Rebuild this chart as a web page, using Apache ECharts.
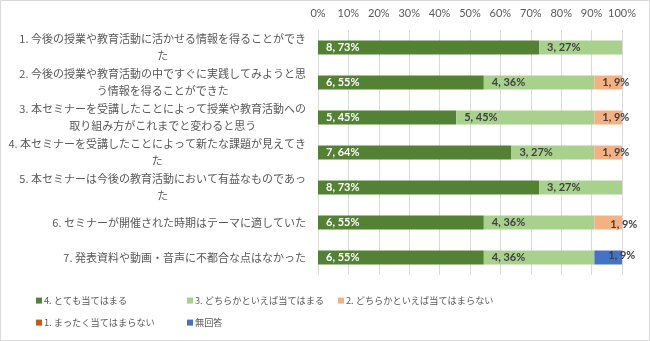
<!DOCTYPE html>
<html>
<head>
<meta charset="utf-8">
<script src="https://cdn.jsdelivr.net/npm/echarts@6/dist/echarts.min.js"></script>
<style>
html,body{margin:0;padding:0;background:#fff;}
#c{width:650px;height:341px;}
</style>
</head>
<body>
<div id="c"></div>
<script>
const categories = [
  "1. 今後の授業や教育活動に活かせる情報を得ることができ\nた",
  "2. 今後の授業や教育活動の中ですぐに実践してみようと思\nう情報を得ることができた",
  "3. 本セミナーを受講したことによって授業や教育活動への\n取り組み方がこれまでと変わると思う",
  "4. 本セミナーを受講したことによって新たな課題が見えてき\nた",
  "5. 本セミナーは今後の教育活動において有益なものであっ\nた",
  "6. セミナーが開催された時期はテーマに適していた",
  "7. 発表資料や動画・音声に不都合な点はなかった"
];
const seriesNames = ["4. とても当てはまる", "3. どちらかといえば当てはまる", "2. どちらかといえば当てはまらない", "1. まったく当てはまらない", "無回答"];
const counts4 = [8, 6, 5, 7, 8, 6, 6];
const counts3 = [3, 4, 5, 3, 3, 4, 4];
const counts2 = [0, 1, 1, 1, 0, 1, 0];
const counts1 = [0, 0, 0, 0, 0, 0, 0];
const countsNA = [0, 0, 0, 0, 0, 0, 1];
const xTicks = ["0%", "10%", "20%", "30%", "40%", "50%", "60%", "70%", "80%", "90%", "100%"];

const allCounts = [counts4, counts3, counts2, counts1, countsNA];
const colors = ["#548235", "#A9D18E", "#F4B183", "#C55A11", "#4472C4"];
const labelColors = ["#ffffff", "#404040", "#404040", "#ffffff", "#404040"];
const labelOffsets = {"2-5": [8, 2], "4-6": [6, -2]};
const totals = categories.map((_, i) => allCounts.reduce((s, a) => s + a[i], 0));

const series = allCounts.map((arr, si) => ({
  name: seriesNames[si],
  type: 'bar',
  stack: 'total',
  barWidth: 14,
  itemStyle: {color: colors[si]},
  data: arr.map((v, i) => {
    const o = {value: v === 0 ? null : v / totals[i] * 100};
    const off = labelOffsets[si + '-' + i];
    if (off) o.label = {offset: off};
    return o;
  }),
  label: {
    show: true,
    position: 'insideLeft',
    distance: 8,
    color: labelColors[si],
    fontFamily: 'Lato',
    fontWeight: 'bold',
    fontSize: 11,
    formatter: p => arr[p.dataIndex] + ', ' + Math.round(arr[p.dataIndex] / totals[p.dataIndex] * 100) + '%'
  }
}));

const legendPos = [[36, 296], [187, 296], [338, 296], [36, 318], [187, 318]];
const legends = seriesNames.map((n, i) => ({
  data: [n],
  left: legendPos[i][0],
  top: legendPos[i][1],
  icon: 'rect',
  itemWidth: 6,
  itemHeight: 6,
  itemGap: 0,
  selectedMode: false,
  padding: 0,
  textStyle: {color: '#595959', fontSize: 9.2, fontFamily: 'Noto Sans CJK JP', padding: [0, 0, 0, -3]}
}));

// Centre the second line of wrapped category labels under the first line
const LBL_FONT_SIZE = 11;
const ctx = document.createElement('canvas').getContext('2d');
ctx.font = LBL_FONT_SIZE + "px 'Noto Sans CJK JP'";
const rich = {};
categories.forEach((c, i) => {
  const lines = c.split('\n');
  if (lines.length > 1) {
    const w1 = ctx.measureText(lines[0]).width;
    const w2 = ctx.measureText(lines[1]).width;
    const pad = Math.max(0, (w1 - w2) / 2);
    rich['p' + i] = {color: '#595959', fontSize: LBL_FONT_SIZE, fontFamily: 'Noto Sans CJK JP', lineHeight: 17, padding: [0, pad, 0, pad]};
  }
});
rich.n = {color: '#595959', fontSize: LBL_FONT_SIZE, fontFamily: 'Noto Sans CJK JP', lineHeight: 17};

const chart = echarts.init(document.getElementById('c'), null, {renderer: 'canvas'});
chart.setOption({
  animation: false,
  backgroundColor: '#fff',
  graphic: [{type: 'rect', shape: {x: 0.5, y: 0.5, width: 649, height: 340}, style: {fill: 'none', stroke: '#d9d9d9', lineWidth: 1}, silent: true}],
  grid: {left: 318, right: 28, top: 30, bottom: 66, containLabel: false},
  legend: legends,
  xAxis: {
    type: 'value',
    position: 'top',
    min: 0, max: 100, interval: 10,
    axisLine: {show: false},
    axisTick: {show: false},
    splitLine: {lineStyle: {color: '#d9d9d9'}},
    axisLabel: {color: '#595959', fontSize: 11, fontFamily: 'Lato', margin: 11,
      formatter: v => xTicks[Math.round(v / 10)]}
  },
  yAxis: {
    type: 'category',
    inverse: true,
    data: categories,
    axisLine: {lineStyle: {color: '#d9d9d9'}},
    axisTick: {length: 5, lineStyle: {color: '#d9d9d9'}},
    axisLabel: {
      color: '#595959', fontSize: LBL_FONT_SIZE, fontFamily: 'Noto Sans CJK JP', margin: 12, lineHeight: 17,
      align: 'right',
      formatter: (v, idx) => {
        const lines = v.split('\n');
        if (lines.length === 1) return '{n|' + lines[0] + '}';
        return '{n|' + lines[0] + '}\n{p' + idx + '|' + lines[1] + '}';
      },
      rich: rich
    }
  },
  series: series
});
</script>
</body>
</html>
